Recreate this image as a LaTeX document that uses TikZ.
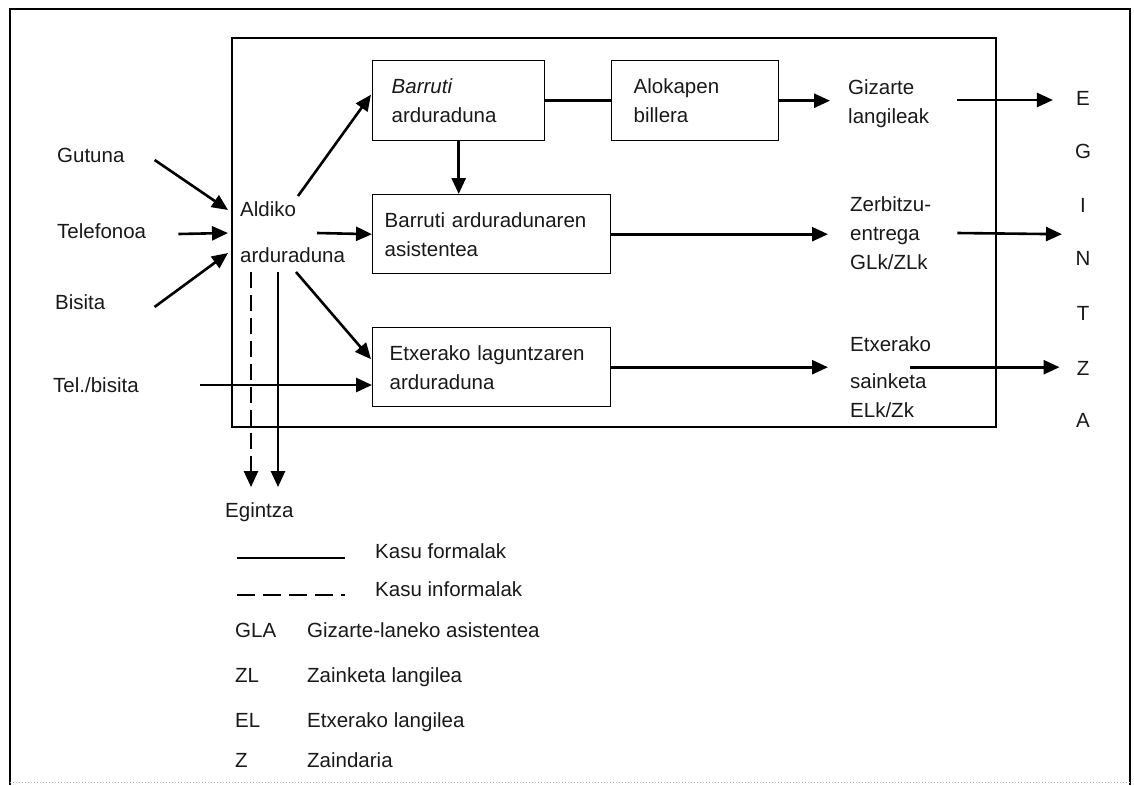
\documentclass[tikz,border=0pt]{standalone}
\usepackage{fontspec}
\setmainfont{Liberation Sans}
\usetikzlibrary{arrows.meta,calc}
\begin{document}
\begin{tikzpicture}[x=1pt,y=-1pt,
  txt/.style={font=\fontsize{20.5}{29}\selectfont, inner sep=0pt, anchor=west, align=left, text=black!90},
  one/.style={txt, text height=15pt, text depth=4.5pt},
  box/.style={draw, line width=1.4pt, anchor=north west, minimum height=80pt, align=left, inner ysep=0pt, font=\fontsize{20.5}{29}\selectfont, text=black!90},
  arr/.style={line width=2.6pt, -{Triangle[length=16pt,width=14pt]}},
  arrd/.style={arr, dash pattern=on 16pt off 7pt},
  ln/.style={line width=2.6pt},
  lnd/.style={line width=2.6pt, dash pattern=on 18pt off 8pt},
  frame/.style={line width=1.5pt}]
\useasboundingbox (0,0) rectangle (1134,785);
% outer frame
\draw[frame] (10,785) -- (10,9) -- (1130,9) -- (1130,785);
\draw[gray!60, line width=1pt, dotted] (10,782) -- (1130,782);
% inner box
\draw[line width=1.4pt] (232,38) rectangle (996,427);

% inputs
\node[one] (gut) at (57,157) {Gutuna};
\node[one] (tel) at (57,233) {Telefonoa};
\node[one] (bis) at (55,304) {Bisita};
\node[one] (telb) at (53,387) {Tel./bisita};
\node[txt] (ald) at (240,232) {Aldiko\\[17pt]arduraduna};

% boxes
\node[box, text width=134pt, inner xsep=19pt] (barr) at (372,60) {\textit{Barruti}\\arduraduna};
\node[box, text width=123pt, inner xsep=22pt] (alok) at (611,60) {Alokapen\\billera};
\node[box, text width=214pt, inner xsep=12pt, minimum height=79pt] (asist) at (372,194) {Barruti arduradunaren\\asistentea};
\node[box, text width=204pt, inner xsep=17pt, minimum height=79pt] (etx) at (372,327) {Etxerako laguntzaren\\arduraduna};

% outputs
\node[txt] (giz) at (848,104) {Gizarte\\langileak};
\node[txt] (zer) at (850,233) {Zerbitzu-\\entrega\\GLk/ZLk};
\node[txt] (sai) at (850,377) {Etxerako\\[8pt]sainketa\\ELk/Zk};

\node[one, anchor=center] (eE) at (1083,100) {E};
\node[one, anchor=center] (eG) at (1083,153) {G};
\node[one, anchor=center] (eI) at (1083,207) {I};
\node[one, anchor=center] (eN) at (1083,260) {N};
\node[one, anchor=center] (eT) at (1083,315) {T};
\node[one, anchor=center] (eZ) at (1083,370) {Z};
\node[one, anchor=center] (eA) at (1083,422) {A};

\node[one] (egi) at (225,512) {Egintza};

% connectors: inputs
\draw[arr] ($(gut.east)+(30,3)$) -- ($(ald.west)+(-12,-22)$);
\draw[arr] ($(tel.east)+(32,1)$) -- ($(ald.west)+(-12,1)$);
\draw[arr] ($(bis.east)+(49,3)$) -- ($(ald.west)+(-12,21)$);
\draw[arr] ($(telb.east)+(61,-2)$) coordinate (tbs) -- (tbs -| etx.west);

% from Aldiko arduraduna
\draw[arr] ($(ald.west)+(58,-36)$) -- ($(barr.west)+(-1,-6)$);
\draw[arr] ($(ald.west)+(77,1)$) -- (asist.west);
\draw[arr] ($(ald.west)+(56,40)$) -- ($(etx.west)+(-1,-8)$);
\draw[arrd] ($(ald.west)+(11,40)$) -- ($(egi.north west)+(26,-15)$);
\draw[arr] ($(ald.west)+(38,40)$) -- ($(egi.north west)+(53,-15)$);

% between boxes
\draw[arr] (barr.south) -- (asist.north -| barr.south);
\draw[ln] (barr.east) -- (alok.west);
\draw[arr] (alok.east) -- ($(alok.east -| giz.west)+(-18,0)$);
\draw[arr] (asist.east) -- ($(asist.east -| zer.west)+(-22,0)$);
\draw[arr] (etx.east) -- ($(etx.east -| sai.west)+(-22,0)$);

% to EGINTZA
\draw[arr] ($(giz.east)+(28,-4)$) -- ($(eE.west)+(-23,0)$);
\draw[arr] ($(zer.east)+(26,0)$) -- ($(eI.west |- asist.east)+(-18,0)$);
\draw[arr] ($(sai.west |- etx.east)+(60,0)$) -- ($(eZ.west |- etx.east)+(-17,0)$);

% legend
\node[one] (kf) at (375,553) {Kasu formalak};
\node[one] (ki) at (375,591) {Kasu informalak};
\draw[ln] ($(kf.west)+(-138,5)$) -- ($(kf.west)+(-30,5)$);
\draw[lnd] ($(ki.west)+(-138,4)$) -- ($(ki.west)+(-30,4)$);
\node[one] (gla) at (235,632) {GLA};
\node[one] (glat) at (307,632) {Gizarte-laneko asistentea};
\node[one] (zl) at (235,677) {ZL};
\node[one] (zlt) at (307,677) {Zainketa langilea};
\node[one] (el) at (235,722) {EL};
\node[one] (elt) at (307,722) {Etxerako langilea};
\node[one] (z) at (235,762) {Z};
\node[one] (zt) at (307,762) {Zaindaria};
\end{tikzpicture}
\end{document}
